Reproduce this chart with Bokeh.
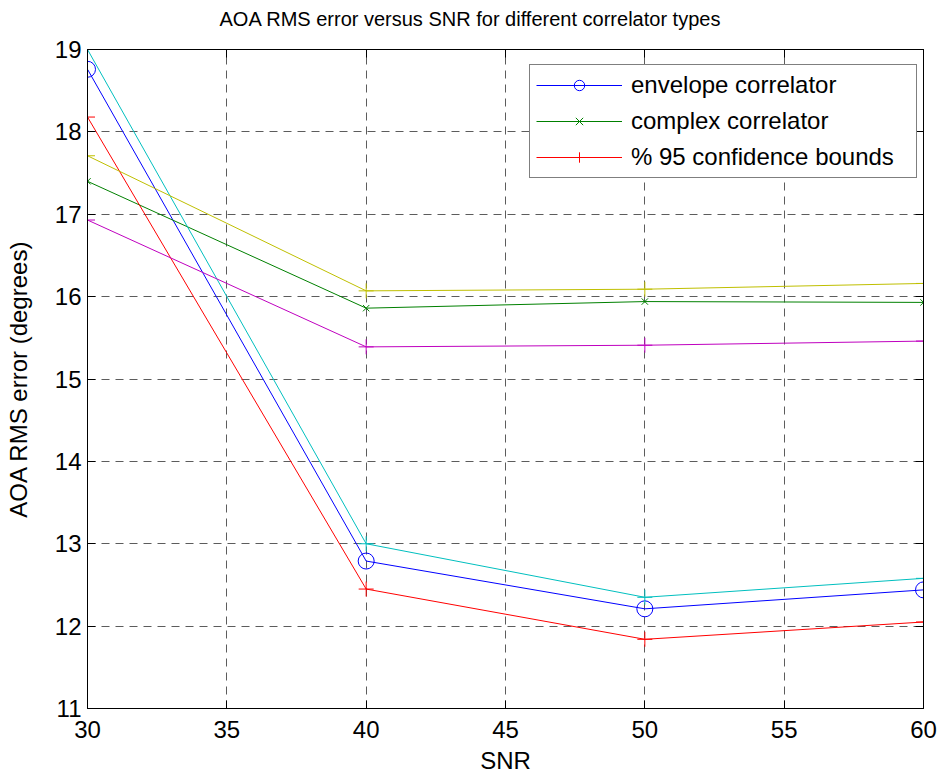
from bokeh.plotting import figure
from bokeh.models import Range1d, LinearAxis, Legend, LegendItem, FixedTicker, Label
from bokeh.embed import file_html
from bokeh.resources import INLINE

snr = [30, 40, 50, 60]
envelope = [18.76, 12.79, 12.21, 12.44]
complex_corr = [17.40, 15.86, 15.94, 15.93]
env_upper = [19.00, 13.00, 12.35, 12.58]
env_lower = [18.18, 12.45, 11.84, 12.05]
cx_upper = [17.71, 16.07, 16.09, 16.16]
cx_lower = [16.93, 15.39, 15.41, 15.46]

x_ticks = [30, 35, 40, 45, 50, 55, 60]
y_ticks = [11, 12, 13, 14, 15, 16, 17, 18, 19]
title_text = "AOA RMS error versus SNR for different correlator types"

FONT = "Liberation Sans"

p = figure(width=942, height=776, output_backend="svg", toolbar_location=None,
           x_range=Range1d(30, 60), y_range=Range1d(11, 19),
           min_border_left=87, min_border_right=19, min_border_top=49, min_border_bottom=68,
           background_fill_color="white", border_fill_color="white")

p.outline_line_color = "black"
p.outline_line_width = 1

for ax, ticks in ((p.xaxis[0], x_ticks), (p.yaxis[0], y_ticks)):
    ax.ticker = FixedTicker(ticks=ticks)
    ax.major_tick_in = 8
    ax.major_tick_out = 0
    ax.minor_tick_in = 0
    ax.minor_tick_out = 0
    ax.major_label_text_font = FONT
    ax.major_label_text_font_size = "24px"
    ax.major_label_text_color = "black"
    ax.axis_label_text_font = FONT
    ax.axis_label_text_font_size = "24px"
    ax.axis_label_text_font_style = "normal"
    ax.axis_label_text_color = "black"
    ax.axis_line_color = "black"
    ax.major_tick_line_color = "black"

p.xaxis[0].axis_label = "SNR"
p.yaxis[0].axis_label = "AOA RMS error (degrees)"
p.xaxis[0].major_label_standoff = 12
p.xaxis[0].axis_label_standoff = 6
p.yaxis[0].major_label_standoff = 6
p.yaxis[0].axis_label_standoff = 20

right_ax = LinearAxis(ticker=FixedTicker(ticks=y_ticks), major_tick_in=8, major_tick_out=0,
                      minor_tick_in=0, minor_tick_out=0, major_label_text_font_size="1px",
                      major_label_text_color=None, major_label_standoff=0,
                      axis_line_color="black")
top_ax = LinearAxis(ticker=FixedTicker(ticks=x_ticks), major_tick_in=8, major_tick_out=0,
                    minor_tick_in=0, minor_tick_out=0, major_label_text_font_size="1px",
                    major_label_text_color=None, major_label_standoff=0,
                    axis_line_color="black")
p.add_layout(right_ax, "right")
p.add_layout(top_ax, "above")

# Title as a label placed in the top side panel (not clipped by the frame)
title_label = Label(x=383, y=31, x_units="screen", y_units="screen", text=title_text,
                    text_font=FONT, text_font_size="20px", text_color="black",
                    text_align="center", text_baseline="middle")
p.add_layout(title_label, "above")

for g in (p.xgrid[0], p.ygrid[0]):
    g.grid_line_color = "#333333"
    g.grid_line_alpha = 0.8
    g.grid_line_dash = "8 6"
    g.grid_line_width = 1

l_env = p.line(snr, envelope, line_color="#0000FF", line_width=1)
s_env = p.scatter(snr, envelope, marker="circle", size=16, line_color="#0000FF",
                  fill_color=None, line_width=1)
l_cx = p.line(snr, complex_corr, line_color="#008000", line_width=1)
s_cx = p.scatter(snr, complex_corr, marker="x", size=9, line_color="#008000", line_width=1)
l_red = p.line(snr, env_lower, line_color="#FF0000", line_width=1)
s_red = p.scatter(snr, env_lower, marker="cross", size=15, line_color="#FF0000", line_width=1)
p.line(snr, env_upper, line_color="#00BFBF", line_width=1)
p.scatter(snr, env_upper, marker="cross", size=15, line_color="#00BFBF", line_width=1)
p.line(snr, cx_upper, line_color="#BFBF00", line_width=1)
p.scatter(snr, cx_upper, marker="cross", size=15, line_color="#BFBF00", line_width=1)
p.line(snr, cx_lower, line_color="#BF00BF", line_width=1)
p.scatter(snr, cx_lower, marker="cross", size=15, line_color="#BF00BF", line_width=1)

legend = Legend(items=[
    LegendItem(label="envelope correlator", renderers=[l_env, s_env]),
    LegendItem(label="complex correlator", renderers=[l_cx, s_cx]),
    LegendItem(label="% 95 confidence bounds", renderers=[l_red, s_red]),
], location=(442, 530))
legend.border_line_color = "black"
legend.border_line_width = 1
legend.background_fill_color = "white"
legend.background_fill_alpha = 1
legend.label_text_font = FONT
legend.label_text_font_size = "24px"
legend.label_text_color = "black"
legend.glyph_width = 86
legend.glyph_height = 26
legend.label_height = 26
legend.label_width = 279
legend.spacing = 8
legend.padding = 6
legend.label_standoff = 9
legend.margin = 0
p.add_layout(legend)

open("out.html", "w").write(file_html(p, INLINE))
